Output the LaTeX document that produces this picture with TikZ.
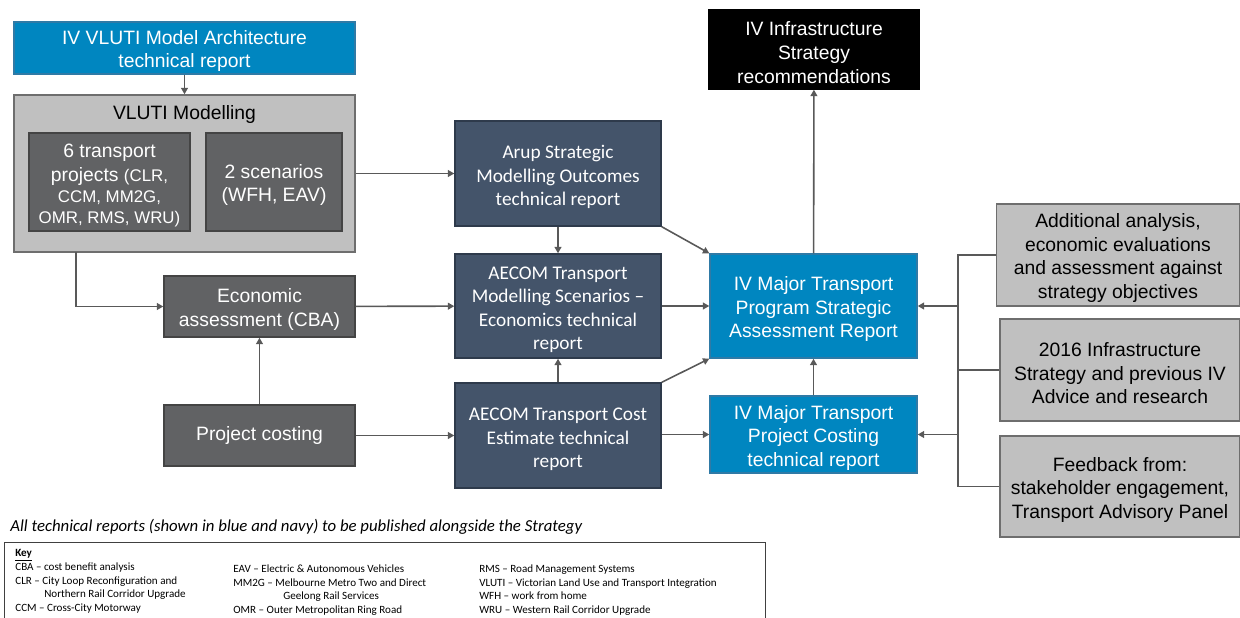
\documentclass[tikz,border=0pt]{standalone}
\usepackage{fontspec}
\setmainfont{Liberation Sans}
\newfontfamily\calibri{Carlito}
\usepackage{tikz}
\usetikzlibrary{arrows.meta}

\definecolor{ivblue}{HTML}{0086C0}
\definecolor{ivblueedge}{HTML}{2F7AA6}
\definecolor{navy}{HTML}{44546A}
\definecolor{navyedge}{HTML}{2E3A4B}
\definecolor{darkgrey}{HTML}{616264}
\definecolor{darkedge}{HTML}{444444}
\definecolor{lightgrey}{HTML}{C0C0C0}
\definecolor{greyedge}{HTML}{6E6E6E}
\definecolor{keyedge}{HTML}{404040}
\definecolor{linkgrey}{HTML}{595959}

% lowers the first line of a box a little
\newcommand{\topfill}{\rule{0pt}{11.5pt}}

\tikzset{
	box/.style={shape=rectangle, draw, line width=0.8pt, align=center, inner sep=0pt,
		font=\fontsize{11}{13.4}\selectfont},
	bluebox/.style={box, fill=ivblue, draw=ivblueedge, text=white},
	navybox/.style={box, fill=navy, draw=navyedge, text=white,
		font=\calibri\fontsize{11}{13.2}\selectfont},
	darkbox/.style={box, fill=darkgrey, draw=darkedge, text=white},
	greybox/.style={box, fill=lightgrey, draw=greyedge, text=black},
	blackbox/.style={box, fill=black, draw=black, text=white},
	link/.style={color=linkgrey, line width=0.9pt, -{Triangle[length=3.6pt,width=3.8pt]}},
	keytext/.style={anchor=base west, align=left, inner sep=0pt,
		font=\calibri\fontsize{6.3}{7.6}\selectfont},
}

\begin{document}
\begin{tikzpicture}
	\useasboundingbox (0,0) rectangle (24.8,12.34);
	
	% modelling inputs
	\node[bluebox, minimum width=6.82cm, minimum height=1.04cm] (arch) at (3.69, 11.38) {\topfill IV VLUTI Model Architecture\\technical report};
	\node[greybox, minimum width=6.82cm, minimum height=3.14cm] (vluti) at (3.69, 8.87) {};
	\node[anchor=base, font=\fontsize{11}{13.4}\selectfont] (vlutititle) at (3.69, 9.96) {VLUTI Modelling};
	\node[darkbox, minimum width=3.22cm, minimum height=1.96cm] (projects) at (2.19, 8.70) {\topfill 6 transport\\projects {\fontsize{9.6}{11.9}\selectfont(CLR,}\\[-1.5pt]{\fontsize{9.6}{11.9}\selectfont CCM, MM2G,}\\[-1.5pt]{\fontsize{9.6}{11.9}\selectfont OMR, RMS, WRU)}};
	\node[darkbox, minimum width=2.72cm, minimum height=1.96cm] (scenarios) at (5.48, 8.70) {\topfill 2 scenarios\\(WFH, EAV)};
	\node[darkbox, minimum width=3.82cm, minimum height=1.22cm] (econ) at (5.19, 6.21) {\topfill Economic\\assessment (CBA)};
	\node[darkbox, minimum width=3.82cm, minimum height=1.22cm] (costing) at (5.19, 3.63) {Project costing};
	
	% technical reports
	\node[navybox, minimum width=4.12cm, minimum height=2.10cm] (arup) at (11.16, 8.87) {\topfill Arup Strategic\\Modelling Outcomes\\technical report};
	\node[navybox, minimum width=4.12cm, minimum height=2.08cm] (aecommod) at (11.16, 6.22) {\topfill AECOM Transport\\Modelling Scenarios –\\Economics technical\\report};
	\node[navybox, minimum width=4.12cm, minimum height=2.10cm] (aecomcost) at (11.16, 3.63) {\topfill AECOM Transport Cost\\Estimate technical\\report};
	\node[bluebox, minimum width=4.14cm, minimum height=2.08cm] (program) at (16.27, 6.22) {\topfill IV Major Transport\\Program Strategic\\Assessment Report};
	\node[bluebox, minimum width=4.14cm, minimum height=1.54cm] (ivcost) at (16.27, 3.65) {\topfill IV Major Transport\\Project Costing\\technical report};
	\node[blackbox, minimum width=4.20cm, minimum height=1.58cm] (infra) at (16.28, 11.35) {\topfill IV Infrastructure\\Strategy\\recommendations};
	
	% other inputs
	\node[greybox, minimum width=4.86cm, minimum height=2.04cm] (analysis) at (22.36, 7.24) {\topfill Additional analysis,\\economic evaluations\\and assessment against\\strategy objectives};
	\node[greybox, minimum width=4.80cm, minimum height=2.04cm] (advice) at (22.40, 4.94) {\topfill 2016 Infrastructure\\Strategy and previous IV\\Advice and research};
	\node[greybox, minimum width=4.80cm, minimum height=2.02cm] (feedback) at (22.40, 2.61) {\topfill Feedback from:\\stakeholder engagement,\\Transport Advisory Panel};
	
	\coordinate (vlutidrop) at (1.52, 7.30);
	\coordinate (bustop) at (19.16, 7.24);
	\coordinate (busbot) at (19.16, 2.61);
	
	\path[link] (arch) edge (vluti);
	\path[link] (vluti.east) edge (arup.west);
	\path[link] (econ) edge (aecommod);
	\path[link] (costing) edge (econ);
	\path[link] (costing) edge (aecomcost);
	\path[link] (arup) edge (aecommod);
	\path[link] (aecomcost) edge (aecommod);
	\path[link] (arup.south east) edge (program.north west);
	\path[link] (aecommod) edge (program);
	\path[link] (aecomcost.north east) edge (program.south west);
	\path[link] (aecomcost.east |- ivcost.west) edge (ivcost.west);
	\path[link] (ivcost) edge (program);
	\path[link] (program) edge (infra);
	\draw[link] (vlutidrop) |- (econ.west);
	
	% inputs from the right
	\draw[link, -] (analysis.west) -- (bustop) -- (busbot) -- (feedback.west);
	\draw[link, -] (advice.west) -- (advice.west -| bustop);
	\draw[link] (bustop |- program.east) -- (program.east);
	\draw[link] (bustop |- ivcost.east) -- (ivcost.east);
	
	% note and key
	\node[anchor=west, inner sep=0pt, font=\calibri\itshape\fontsize{9.55}{11}\selectfont] (note) at (0.20, 1.80) {All technical reports (shown in blue and navy) to be published alongside the Strategy};
	\node[draw=keyedge, line width=0.7pt, anchor=north west, minimum width=15.22cm, minimum height=1.8cm] (key) at (0.08, 1.50) {};
	\node[keytext] (keyleft) at (0.30, 0.12) {\underline{\textbf{Key}}\\[0.6pt]CBA – cost benefit analysis\\CLR – City Loop Reconfiguration and\\\hspace*{16.5pt}Northern Rail Corridor Upgrade\\CCM – Cross-City Motorway};
	\node[keytext] (keymid) at (4.66, 0.08) {EAV – Electric \& Autonomous Vehicles\\MM2G – Melbourne Metro Two and Direct\\\hspace*{28.5pt}Geelong Rail Services\\OMR – Outer Metropolitan Ring Road};
	\node[keytext] (keyright) at (9.58, 0.08) {RMS – Road Management Systems\\VLUTI – Victorian Land Use and Transport Integration\\WFH – work from home\\WRU – Western Rail Corridor Upgrade};
	
\end{tikzpicture}
\end{document}
